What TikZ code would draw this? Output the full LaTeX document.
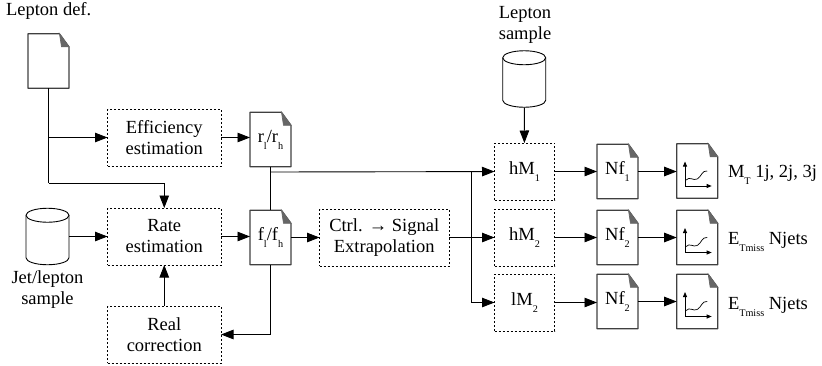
\documentclass[tikz,border=0pt]{standalone}
\usepackage{fontspec}
\setmainfont{Liberation Serif}
\usetikzlibrary{calc}
\usetikzlibrary{positioning}
\usetikzlibrary{arrows.meta}
\newcommand{\indice}[1]{\raisebox{-7pt}{\fontsize{10.2}{11}\selectfont #1}}
\begin{document}
\begin{tikzpicture}[x=1pt,y=-1pt]
% les styles
\tikzstyle texteflux=[font=\fontsize{18.5}{21}\selectfont,align=center,inner sep=0pt,outer sep=0pt]
\tikzstyle boiteflux=[texteflux,draw,line width=0.9pt,dash pattern=on 2pt off 2pt,minimum width=113.5pt,minimum height=57pt]
\tikzstyle boitemasse=[boiteflux,minimum width=60pt]
\tikzstyle boiteextra=[boiteflux,minimum width=129.5pt]
\tikzstyle docflux=[texteflux,minimum width=41pt,minimum height=54.5pt]
\tikzstyle bordflux=[color=black!75,line width=1.1pt,line join=round]
\tikzstyle plieflux=[fill=black!25,color=black!60,line width=0.7pt]
\tikzstyle baseflux=[texteflux,minimum width=43pt,minimum height=56.5pt]
\tikzstyle flecheflux=[line width=0.9pt,-{Triangle[length=12.5pt,width=9.5pt]}]
\tikzstyle lienflux=[line width=0.9pt]
\tikzstyle axeflux=[line width=0.8pt,-{Triangle[length=5pt,width=4pt]}]
% une feuille : nom, x, y, texte
\newcommand{\feuille}[4]{
  \node[docflux] (#1) at (#2,#3) {#4};
  \draw[bordflux] (#1.north west) -- ($(#1.north east)+(-9.5,0)$) -- ($(#1.north east)+(0,13)$) -- (#1.south east) -- (#1.south west) -- cycle;
  \draw[plieflux] ($(#1.north east)+(-9.5,0)$) -- ($(#1.north east)+(0,13)$) -- ($(#1.north east)+(-7.5,13)$) -- cycle;
}
% une base : nom, x, y
\newcommand{\base}[3]{
  \node[baseflux] (#1) at (#2,#3) {};
  \draw[line width=0.9pt] ($(#1.north west)+(0,7)$) arc[start angle=180,end angle=540,x radius=21.5pt,y radius=7pt];
  \draw[line width=0.9pt] ($(#1.north west)+(0,7)$) -- ($(#1.south west)+(0,-7)$) arc[start angle=180,end angle=360,x radius=21.5pt,y radius=7pt] -- ($(#1.north east)+(0,7)$);
}
\useasboundingbox (0,0) rectangle (822,365);
% les feuilles
\feuille{defl}{48.5}{61}{}
\feuille{docr}{270.5}{139.5}{r\indice{l}/r\indice{h}}
\feuille{docf}{270.5}{237.5}{f\indice{l}/f\indice{h}}
\feuille{nfun}{617.5}{171.5}{Nf\indice{1}}
\feuille{nfdeux}{617.5}{237.5}{Nf\indice{2}}
\feuille{nftrois}{617.5}{301.5}{Nf\indice{2}}
\feuille{grun}{697.2}{171}{}
\feuille{grdeux}{697.2}{237.5}{}
\feuille{grtrois}{697.2}{301.5}{}
% les courbes
\foreach \g in {grun,grdeux,grtrois}{
  \draw[axeflux] ($(\g)+(-12.2,15)$) -- ($(\g)+(-12.2,-9.5)$);
  \draw[axeflux] ($(\g)+(-12.2,15)$) -- ($(\g)+(14.5,15)$);
  \draw[line width=0.7pt] ($(\g)+(-11,9)$) .. controls ($(\g)+(-8,5)$) and ($(\g)+(-4,10)$) .. ($(\g)+(0,8)$) .. controls ($(\g)+(4,6)$) and ($(\g)+(5,-1)$) .. ($(\g)+(10,0)$);
}
% les boites
\node[boiteflux] (effic) at (164.25,137.5) {Efficiency\\estimation};
\node[boiteflux] (rate) at (164.25,236.5) {Rate\\estimation};
\node[boiteflux] (real) at (164.25,334.5) {Real\\correction};
\node[boiteextra] (extrap) at (384.25,237.5) {Ctrl. → Signal\\Extrapolation};
\node[boitemasse] (hmun) at (524.5,171.5) {hM\indice{1}};
\node[boitemasse] (hmdeux) at (524.5,237.5) {hM\indice{2}};
\node[boitemasse] (lmdeux) at (524.5,302.5) {lM\indice{2}};
% les bases
\base{jets}{47.5}{236.5}
\base{leps}{524.2}{79}
% les textes
\node[texteflux,anchor=west] (titredef) at (6,11) {Lepton def.};
\node[texteflux,below=6pt of jets] (titrejets) {Jet/lepton\\sample};
\node[texteflux] (titreleps) at (525,25) {Lepton\\sample};
\node[texteflux,anchor=west] (titreun) at (728,175) {M\indice{T} 1j, 2j, 3j};
\node[texteflux,anchor=west] (titredeux) at (728,241.5) {E\indice{Tmiss} Njets};
\node[texteflux,anchor=west] (titretrois) at (728,306.5) {E\indice{Tmiss} Njets};
% les points de jonction
\coordinate (jonctionr) at (270.5,172);
\coordinate (jonctionh) at (471.5,172);
\coordinate (jonctiond) at (48.5,137.5);
\coordinate (jonctionb) at (48.5,183);
\coordinate (jonctionf) at (270.5,334.5);
% les liens
\draw[lienflux] (defl) -- (jonctionb);
\draw[flecheflux] (jonctiond) -- (effic);
\draw[flecheflux] (jonctionb) -| (rate);
\draw[flecheflux] (effic) -- (effic -| docr.west);
\draw[flecheflux] (jets) -- (rate);
\draw[flecheflux] (rate) -- (rate -| docf.west);
\draw[flecheflux] (real) -- (rate);
\draw[lienflux] (docr) -- (docf);
\draw[flecheflux] (docf) -- (jonctionf) -- (real);
\draw[flecheflux] (docf) -- (extrap);
\draw[flecheflux] (jonctionr) -- (hmun);
\draw[flecheflux] (jonctionh) |- (lmdeux);
\draw[flecheflux] (extrap) -- (hmdeux);
\draw[flecheflux] (leps) -- (hmun);
\draw[flecheflux] (hmun) -- (nfun);
\draw[flecheflux] (hmdeux) -- (nfdeux);
\draw[flecheflux] (lmdeux) -- (lmdeux -| nftrois.west);
\draw[flecheflux] (nfun) -- (nfun -| grun.west);
\draw[flecheflux] (nfdeux) -- (grdeux);
\draw[flecheflux] (nftrois) -- (grtrois);
\end{tikzpicture}
\end{document}
